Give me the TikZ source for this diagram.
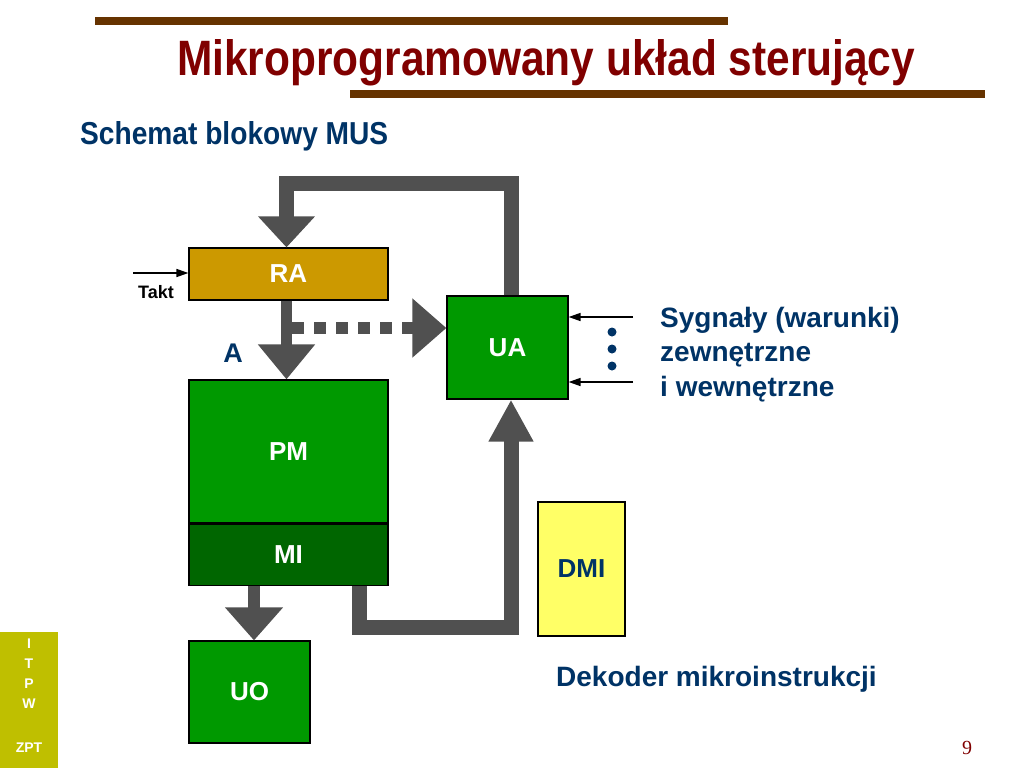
\documentclass[tikz,border=0pt]{standalone}
\usepackage{fontspec}
\usepackage{graphicx}
\setmainfont{Liberation Sans}
\newfontfamily\pagenumfont{Liberation Serif}
\usetikzlibrary{arrows.meta,positioning,calc}
\definecolor{titlered}{RGB}{128,0,0}
\definecolor{barbrown}{RGB}{102,51,0}
\definecolor{navytext}{RGB}{0,51,102}
\definecolor{pmgreen}{RGB}{0,153,0}
\definecolor{migreen}{RGB}{0,102,0}
\definecolor{ragold}{RGB}{204,153,0}
\definecolor{dmiyellow}{RGB}{255,255,102}
\definecolor{pipegray}{RGB}{80,80,80}
\definecolor{sideolive}{RGB}{191,191,0}

\begin{document}
\begin{tikzpicture}[x=1pt, y=-1pt,
  blk/.style={draw, line width=1.2pt, fill=#1, inner sep=0pt, text=white,
              font=\fontsize{26}{30}\selectfont\bfseries},
  pipe/.style={draw=pipegray, line join=miter, line width=#1},
  wire/.style={draw=black, line width=1.6pt, -{Triangle[length=12pt,width=8pt]}},
  note/.style={text=navytext, inner sep=0pt, font=\fontsize{28}{34.5}\selectfont\bfseries}]

  \useasboundingbox (0,0) rectangle (1024,768);

  % title and bars
  \fill[barbrown] (95,17) rectangle (728,25);
  \fill[barbrown] (350,90) rectangle (985,98);
  \node[anchor=base west, inner sep=0pt, text=titlered] (title) at (177,75)
       {\resizebox{738pt}{36pt}{\bfseries Mikroprogramowany układ sterujący}};
  \node[anchor=base west, inner sep=0pt, text=navytext] (subtitle) at (80,144)
       {\resizebox{308pt}{23pt}{\bfseries Schemat blokowy MUS}};

  % blocks
  \node[blk=ragold, minimum width=199pt, minimum height=52pt] (RA) at (288.5,274) {RA};
  \node[blk=pmgreen, minimum width=121pt, minimum height=103pt] (UA) at (507.5,347.5) {UA};
  \node[blk=pmgreen, minimum width=199pt, minimum height=143pt] (PM) at (288.5,451.5) {PM};
  \node[blk=migreen, minimum width=199pt, minimum height=61pt, below=0pt of PM] (MI) {MI};
  \node[blk=pmgreen, minimum width=121pt, minimum height=102pt] (UO) at (249.5,692) {UO};
  \node[blk=dmiyellow, text=navytext, minimum width=87pt, minimum height=134pt] (DMI) at (581.5,569) {DMI};

  % wide buses
  \coordinate (loopTop) at (400,183);
  \coordinate (loopBot) at (430,627);
  \coordinate (tap) at (292,328);
  \coordinate (miOut) at ([xshift=-34.5pt]MI.south);
  \draw[pipe=15pt, -{Triangle[length=31pt,width=55pt]}]
       ([xshift=3.5pt]UA.north) |- (loopTop) -| ([xshift=-2pt]RA.north);
  \draw[pipe=11pt, -{Triangle[length=35pt,width=55pt]}]
       ([xshift=-2pt]RA.south) -- ([xshift=-2pt]PM.north);
  \draw[pipe=12pt, dash pattern=on 12pt off 10pt, -{Triangle[length=34pt,width=57pt]}]
       (tap) -- (tap -| UA.west);
  \draw[pipe=12pt, -{Triangle[length=33pt,width=56pt]}] (miOut) -- (miOut |- UO.north);
  \draw[pipe=15pt, -{Triangle[length=42pt,width=42pt]}]
       ([xshift=70.5pt]MI.south) |- (loopBot) -| ([xshift=3.5pt]UA.south);

  % thin signals
  \coordinate (taktIn) at (133,273);
  \coordinate (sigA) at (633,317);
  \coordinate (sigB) at (633,382);
  \draw[wire] (taktIn) -- (taktIn -| RA.west);
  \draw[wire] (sigA) -- (sigA -| UA.east);
  \draw[wire] (sigB) -- (sigB -| UA.east);
  \foreach \y in {332,349,366}
    \fill[navytext] (612,\y) circle (4.5pt);

  % labels
  \node[anchor=base, inner sep=0pt, font=\fontsize{18}{20}\selectfont\bfseries] (takt) at (156,298) {Takt};
  \node[note, anchor=base, font=\fontsize{27}{30}\selectfont\bfseries] (addr) at (233,362) {A};
  \node[note, anchor=north west, align=left] (signals) at (660,307)
       {Sygnały (warunki)\\zewnętrzne\\i wewnętrzne};
  \node[note, anchor=base west] (dekoder) at (556,686) {Dekoder mikroinstrukcji};

  % side strip and page number
  \fill[sideolive] (0,632) rectangle (58,768);
  \node[anchor=north, align=center, text=white, inner sep=0pt,
        font=\fontsize{14}{20}\selectfont\bfseries] (itpw) at (29,639) {I\\T\\P\\W};
  \node[text=white, inner sep=0pt, font=\fontsize{14}{16}\selectfont\bfseries] (zpt) at (29,748) {ZPT};
  \node[text=titlered, inner sep=0pt, font=\pagenumfont\fontsize{20}{22}\selectfont] (pagenum) at (967,748) {9};
\end{tikzpicture}
\end{document}
